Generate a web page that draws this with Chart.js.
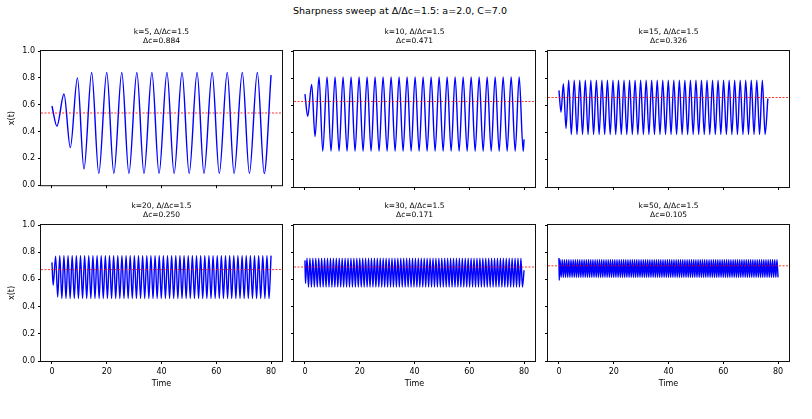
<!DOCTYPE html>
<html>
<head>
<meta charset="utf-8">
<title>Sharpness sweep</title>
<script src="https://cdn.jsdelivr.net/npm/chart.js"></script>
<style>
    body { margin: 0; background: #fff; font-family: "DejaVu Sans", sans-serif; }
    #page { position: relative; width: 812px; height: 419px; overflow: hidden; }
    #suptitle { position: absolute; left: 0; width: 800px; top: 5px; text-align: center; font-size: 9.5px; color: #000; }
    canvas { position: absolute; }
</style>
</head>
<body>
<div id="page">
    <div id="suptitle">Sharpness sweep at Δ/Δc=1.5: a=2.0, C=7.0</div>
</div>

<script>
    const xTicks = [0, 20, 40, 60, 80];
    const yTicks = [0, 0.2, 0.4, 0.6, 0.8, 1.0];
    const kValues = [5, 10, 15, 20, 30, 50];
    const dcValues = ['0.884', '0.471', '0.326', '0.250', '0.171', '0.105'];
    const meanLevels = [0.538, 0.629, 0.658, 0.672, 0.691, 0.700];

    // extrema of x(t) (time, value)
    const k5Time = [0, 1.8, 4.4, 6.7, 9.3, 11.7, 14.5, 17.1, 20.0, 22.6, 25.5, 28.1, 31.0, 33.6, 36.5, 39.1,
        42.0, 44.6, 47.5, 50.1, 53.0, 55.5, 58.5, 61.1, 64.0, 66.5, 69.5, 72.1, 75.0, 77.5, 80];
    const k5X = [0.59, 0.44, 0.68, 0.28, 0.80, 0.12,
        0.84, 0.086, 0.84, 0.086, 0.84, 0.086, 0.84, 0.086, 0.84, 0.086, 0.84, 0.086,
        0.84, 0.086, 0.84, 0.086, 0.84, 0.086, 0.84, 0.086, 0.84, 0.086, 0.84, 0.086, 0.82];

    const k10Time = [0, 1.0, 2.46, 3.68, 5.14, 6.5, 8.06, 9.52, 10.99, 12.45, 13.91, 15.37, 16.83, 18.29,
        19.76, 21.22, 22.68, 24.14, 25.60, 27.06, 28.52, 29.99, 31.45, 32.91, 34.37, 35.83, 37.29, 38.76,
        40.22, 41.68, 43.14, 44.60, 46.06, 47.52, 48.99, 50.45, 51.91, 53.37, 54.83, 56.29, 57.76, 59.22,
        60.68, 62.14, 63.60, 65.06, 66.52, 67.99, 69.45, 70.91, 72.37, 73.83, 75.29, 76.76, 78.22, 79.68, 80];
    const k10X = [0.683, 0.52, 0.754, 0.37,
        0.81, 0.263, 0.81, 0.263, 0.81, 0.263, 0.81, 0.263, 0.81, 0.263, 0.81, 0.263, 0.81, 0.263,
        0.81, 0.263, 0.81, 0.263, 0.81, 0.263, 0.81, 0.263, 0.81, 0.263, 0.81, 0.263, 0.81, 0.263,
        0.81, 0.263, 0.81, 0.263, 0.81, 0.263, 0.81, 0.263, 0.81, 0.263, 0.81, 0.263, 0.81, 0.263,
        0.81, 0.263, 0.81, 0.263, 0.81, 0.263, 0.81, 0.263, 0.81, 0.263, 0.35];

    const k15Time = [0, 0.75, 1.61, 2.58, 3.56, 4.5, 5.58, 6.59, 7.60, 8.61, 9.62, 10.63, 11.64, 12.65,
        13.66, 14.67, 15.68, 16.69, 17.70, 18.71, 19.72, 20.73, 21.74, 22.75, 23.76, 24.77, 25.78, 26.79,
        27.80, 28.81, 29.82, 30.83, 31.84, 32.85, 33.86, 34.87, 35.88, 36.89, 37.90, 38.91, 39.92, 40.93,
        41.94, 42.95, 43.96, 44.97, 45.98, 46.99, 48.00, 49.01, 50.02, 51.03, 52.04, 53.05, 54.06, 55.07,
        56.08, 57.09, 58.10, 59.11, 60.12, 61.13, 62.14, 63.15, 64.16, 65.17, 66.18, 67.19, 68.20, 69.21,
        70.22, 71.23, 72.24, 73.25, 74.26, 75.27, 76.28, 77.29, 78.30, 79.31, 80];
    const k15X = [0.71, 0.55, 0.76, 0.43,
        0.786, 0.386, 0.786, 0.386, 0.786, 0.386, 0.786, 0.386, 0.786, 0.386, 0.786, 0.386, 0.786, 0.386, 0.786, 0.386,
        0.786, 0.386, 0.786, 0.386, 0.786, 0.386, 0.786, 0.386, 0.786, 0.386, 0.786, 0.386, 0.786, 0.386, 0.786, 0.386,
        0.786, 0.386, 0.786, 0.386, 0.786, 0.386, 0.786, 0.386, 0.786, 0.386, 0.786, 0.386, 0.786, 0.386, 0.786, 0.386,
        0.786, 0.386, 0.786, 0.386, 0.786, 0.386, 0.786, 0.386, 0.786, 0.386, 0.786, 0.386, 0.786, 0.386, 0.786, 0.386,
        0.786, 0.386, 0.786, 0.386, 0.786, 0.386, 0.786, 0.386, 0.65];

    const k20Time = [0, 0.45, 1.34, 2.10, 2.85, 3.61, 4.37, 5.12, 5.88, 6.64, 7.39, 8.15, 8.91, 9.66,
        10.42, 11.17, 11.93, 12.69, 13.44, 14.20, 14.96, 15.71, 16.47, 17.23, 17.98, 18.74, 19.50, 20.25,
        21.01, 21.77, 22.52, 23.28, 24.04, 24.79, 25.55, 26.30, 27.06, 27.82, 28.57, 29.33, 30.09, 30.84,
        31.60, 32.36, 33.11, 33.87, 34.63, 35.38, 36.14, 36.90, 37.65, 38.41, 39.17, 39.92, 40.68, 41.43,
        42.19, 42.95, 43.70, 44.46, 45.22, 45.97, 46.73, 47.49, 48.24, 49.00, 49.76, 50.51, 51.27, 52.03,
        52.78, 53.54, 54.30, 55.05, 55.81, 56.56, 57.32, 58.08, 58.83, 59.59, 60.35, 61.10, 61.86, 62.62,
        63.37, 64.13, 64.89, 65.64, 66.40, 67.16, 67.91, 68.67, 69.43, 70.18, 70.94, 71.69, 72.45, 73.21,
        73.96, 74.72, 75.48, 76.23, 76.99, 77.75, 78.50, 79.26, 80.0];
    const k20X = [0.725, 0.557, 0.77, 0.47,
        0.775, 0.459, 0.775, 0.459, 0.775, 0.459, 0.775, 0.459, 0.775, 0.459,
        0.775, 0.459, 0.775, 0.459, 0.775, 0.459, 0.775, 0.459, 0.775, 0.459,
        0.775, 0.459, 0.775, 0.459, 0.775, 0.459, 0.775, 0.459, 0.775, 0.459,
        0.775, 0.459, 0.775, 0.459, 0.775, 0.459, 0.775, 0.459, 0.775, 0.459,
        0.775, 0.459, 0.775, 0.459, 0.775, 0.459, 0.775, 0.459, 0.775, 0.459,
        0.775, 0.459, 0.775, 0.459, 0.775, 0.459, 0.775, 0.459, 0.775, 0.459,
        0.775, 0.459, 0.775, 0.459, 0.775, 0.459, 0.775, 0.459, 0.775, 0.459,
        0.775, 0.459, 0.775, 0.459, 0.775, 0.459, 0.775, 0.459, 0.775, 0.459,
        0.775, 0.459, 0.775, 0.459, 0.775, 0.459, 0.775, 0.459, 0.775, 0.459,
        0.775, 0.459, 0.775, 0.459, 0.775, 0.459, 0.775, 0.459, 0.775, 0.459,
        0.775, 0.459, 0.775];

    const k30Time = [0, 0.2, 0.75, 1.29, 1.82, 2.36, 2.89, 3.43, 3.96, 4.50, 5.03, 5.57, 6.10, 6.64,
        7.17, 7.71, 8.24, 8.78, 9.31, 9.85, 10.38, 10.92, 11.45, 11.99, 12.52, 13.06, 13.59, 14.13,
        14.66, 15.20, 15.73, 16.27, 16.80, 17.34, 17.87, 18.41, 18.94, 19.48, 20.01, 20.55, 21.08, 21.62,
        22.15, 22.69, 23.22, 23.76, 24.29, 24.83, 25.36, 25.90, 26.43, 26.97, 27.50, 28.04, 28.57, 29.11,
        29.64, 30.18, 30.71, 31.25, 31.78, 32.32, 32.85, 33.39, 33.92, 34.46, 34.99, 35.53, 36.06, 36.60,
        37.13, 37.67, 38.20, 38.74, 39.27, 39.81, 40.34, 40.88, 41.41, 41.95, 42.48, 43.02, 43.55, 44.09,
        44.62, 45.16, 45.69, 46.23, 46.76, 47.30, 47.83, 48.37, 48.90, 49.44, 49.97, 50.51, 51.04, 51.58,
        52.11, 52.65, 53.18, 53.72, 54.25, 54.79, 55.32, 55.86, 56.39, 56.93, 57.46, 58.00, 58.53, 59.07,
        59.60, 60.14, 60.67, 61.21, 61.74, 62.28, 62.81, 63.35, 63.88, 64.42, 64.95, 65.49, 66.02, 66.56,
        67.09, 67.63, 68.16, 68.70, 69.23, 69.77, 70.30, 70.84, 71.37, 71.91, 72.44, 72.98, 73.51, 74.05,
        74.58, 75.12, 75.65, 76.19, 76.72, 77.26, 77.79, 78.33, 78.86, 79.40, 80];
    const k30X = [0.74, 0.569,
        0.755, 0.544, 0.755, 0.544, 0.755, 0.544, 0.755, 0.544, 0.755, 0.544, 0.755, 0.544, 0.755, 0.544,
        0.755, 0.544, 0.755, 0.544, 0.755, 0.544, 0.755, 0.544, 0.755, 0.544, 0.755, 0.544, 0.755, 0.544,
        0.755, 0.544, 0.755, 0.544, 0.755, 0.544, 0.755, 0.544, 0.755, 0.544, 0.755, 0.544, 0.755, 0.544,
        0.755, 0.544, 0.755, 0.544, 0.755, 0.544, 0.755, 0.544, 0.755, 0.544, 0.755, 0.544, 0.755, 0.544,
        0.755, 0.544, 0.755, 0.544, 0.755, 0.544, 0.755, 0.544, 0.755, 0.544, 0.755, 0.544, 0.755, 0.544,
        0.755, 0.544, 0.755, 0.544, 0.755, 0.544, 0.755, 0.544, 0.755, 0.544, 0.755, 0.544, 0.755, 0.544,
        0.755, 0.544, 0.755, 0.544, 0.755, 0.544, 0.755, 0.544, 0.755, 0.544, 0.755, 0.544, 0.755, 0.544,
        0.755, 0.544, 0.755, 0.544, 0.755, 0.544, 0.755, 0.544, 0.755, 0.544, 0.755, 0.544, 0.755, 0.544,
        0.755, 0.544, 0.755, 0.544, 0.755, 0.544, 0.755, 0.544, 0.755, 0.544, 0.755, 0.544, 0.755, 0.544,
        0.755, 0.544, 0.755, 0.544, 0.755, 0.544, 0.755, 0.544, 0.755, 0.544, 0.755, 0.544, 0.755, 0.544,
        0.755, 0.544, 0.755, 0.544, 0.755, 0.544, 0.755, 0.544, 0.667];

    const k50Time = [0, 0.1,
        0.4, 0.8, 1.2, 1.6, 2.0, 2.4, 2.8, 3.2, 3.6, 4.0, 4.4, 4.8, 5.2, 5.6, 6.0, 6.4, 6.8, 7.2, 7.6, 8.0,
        8.4, 8.8, 9.2, 9.6, 10.0, 10.4, 10.8, 11.2, 11.6, 12.0, 12.4, 12.8, 13.2, 13.6, 14.0, 14.4, 14.8, 15.2, 15.6, 16.0,
        16.4, 16.8, 17.2, 17.6, 18.0, 18.4, 18.8, 19.2, 19.6, 20.0, 20.4, 20.8, 21.2, 21.6, 22.0, 22.4, 22.8, 23.2, 23.6, 24.0,
        24.4, 24.8, 25.2, 25.6, 26.0, 26.4, 26.8, 27.2, 27.6, 28.0, 28.4, 28.8, 29.2, 29.6, 30.0, 30.4, 30.8, 31.2, 31.6, 32.0,
        32.4, 32.8, 33.2, 33.6, 34.0, 34.4, 34.8, 35.2, 35.6, 36.0, 36.4, 36.8, 37.2, 37.6, 38.0, 38.4, 38.8, 39.2, 39.6, 40.0,
        40.4, 40.8, 41.2, 41.6, 42.0, 42.4, 42.8, 43.2, 43.6, 44.0, 44.4, 44.8, 45.2, 45.6, 46.0, 46.4, 46.8, 47.2, 47.6, 48.0,
        48.4, 48.8, 49.2, 49.6, 50.0, 50.4, 50.8, 51.2, 51.6, 52.0, 52.4, 52.8, 53.2, 53.6, 54.0, 54.4, 54.8, 55.2, 55.6, 56.0,
        56.4, 56.8, 57.2, 57.6, 58.0, 58.4, 58.8, 59.2, 59.6, 60.0, 60.4, 60.8, 61.2, 61.6, 62.0, 62.4, 62.8, 63.2, 63.6, 64.0,
        64.4, 64.8, 65.2, 65.6, 66.0, 66.4, 66.8, 67.2, 67.6, 68.0, 68.4, 68.8, 69.2, 69.6, 70.0, 70.4, 70.8, 71.2, 71.6, 72.0,
        72.4, 72.8, 73.2, 73.6, 74.0, 74.4, 74.8, 75.2, 75.6, 76.0, 76.4, 76.8, 77.2, 77.6, 78.0, 78.4, 78.8, 79.2, 79.6, 80.0];
    const k50X = [0.757, 0.593,
        0.745, 0.615, 0.745, 0.615, 0.745, 0.615, 0.745, 0.615, 0.745, 0.615, 0.745, 0.615, 0.745, 0.615, 0.745, 0.615, 0.745, 0.615, 0.745, 0.615,
        0.745, 0.615, 0.745, 0.615, 0.745, 0.615, 0.745, 0.615, 0.745, 0.615, 0.745, 0.615, 0.745, 0.615, 0.745, 0.615, 0.745, 0.615, 0.745, 0.615,
        0.745, 0.615, 0.745, 0.615, 0.745, 0.615, 0.745, 0.615, 0.745, 0.615, 0.745, 0.615, 0.745, 0.615, 0.745, 0.615, 0.745, 0.615, 0.745, 0.615,
        0.745, 0.615, 0.745, 0.615, 0.745, 0.615, 0.745, 0.615, 0.745, 0.615, 0.745, 0.615, 0.745, 0.615, 0.745, 0.615, 0.745, 0.615, 0.745, 0.615,
        0.745, 0.615, 0.745, 0.615, 0.745, 0.615, 0.745, 0.615, 0.745, 0.615, 0.745, 0.615, 0.745, 0.615, 0.745, 0.615, 0.745, 0.615, 0.745, 0.615,
        0.745, 0.615, 0.745, 0.615, 0.745, 0.615, 0.745, 0.615, 0.745, 0.615, 0.745, 0.615, 0.745, 0.615, 0.745, 0.615, 0.745, 0.615, 0.745, 0.615,
        0.745, 0.615, 0.745, 0.615, 0.745, 0.615, 0.745, 0.615, 0.745, 0.615, 0.745, 0.615, 0.745, 0.615, 0.745, 0.615, 0.745, 0.615, 0.745, 0.615,
        0.745, 0.615, 0.745, 0.615, 0.745, 0.615, 0.745, 0.615, 0.745, 0.615, 0.745, 0.615, 0.745, 0.615, 0.745, 0.615, 0.745, 0.615, 0.745, 0.615,
        0.745, 0.615, 0.745, 0.615, 0.745, 0.615, 0.745, 0.615, 0.745, 0.615, 0.745, 0.615, 0.745, 0.615, 0.745, 0.615, 0.745, 0.615, 0.745, 0.615,
        0.745, 0.615, 0.745, 0.615, 0.745, 0.615, 0.745, 0.615, 0.745, 0.615, 0.745, 0.615, 0.745, 0.615, 0.745, 0.615, 0.745, 0.615, 0.745, 0.615];

    const series = [[k5Time, k5X], [k10Time, k10X], [k15Time, k15X], [k20Time, k20X], [k30Time, k30X], [k50Time, k50X]];

    // layout in page pixels
    const plotLeft = [41, 294, 548];
    const plotTop = [51, 225];
    const plotW = 241, plotH = 136, yAxisW = 41, titleH = 23, padRight = 9;
    const FONT = 'DejaVu Sans';

    const frame = {
        id: 'frame',
        afterDraw(chart) {
            const a = chart.chartArea, c = chart.ctx;
            c.save();
            c.strokeStyle = '#111';
            c.lineWidth = 1;
            c.strokeRect(a.left - 0.5, a.top - 0.5, a.right - a.left + 1, a.bottom - a.top + 1);
            c.restore();
        }
    };

    const page = document.getElementById('page');

    series.forEach(([times, values], i) => {
        const row = Math.floor(i / 3), col = i % 3;
        const xAxisH = row === 1 ? 28 : 6;
        const cv = document.createElement('canvas');
        cv.width = yAxisW + plotW + padRight;
        cv.height = titleH + plotH + xAxisH;
        cv.style.left = (plotLeft[col] - yAxisW) + 'px';
        cv.style.top = (plotTop[row] - titleH) + 'px';
        page.appendChild(cv);

        const pts = times.map((t, j) => ({x: t, y: values[j]}));
        const m = meanLevels[i];

        new Chart(cv.getContext('2d'), {
            type: 'line',
            data: {
                datasets: [
                    {
                        data: [{x: -4, y: m}, {x: 84, y: m}],
                        borderColor: 'rgba(255, 0, 0, 0.8)',
                        borderWidth: 1,
                        borderDash: [2, 1.5],
                        pointRadius: 0
                    },
                    {
                        data: pts,
                        borderColor: '#0000ff',
                        borderWidth: 1.4,
                        pointRadius: 0,
                        cubicInterpolationMode: 'monotone',
                        fill: false
                    }
                ]
            },
            options: {
                responsive: false,
                animation: false,
                devicePixelRatio: 1,
                events: [],
                layout: { padding: { left: 0, right: padRight, top: 0, bottom: 0 } },
                plugins: {
                    legend: { display: false },
                    tooltip: { enabled: false },
                    title: {
                        display: true,
                        fullSize: false,
                        text: ['k=' + kValues[i] + ', Δ/Δc=1.5', 'Δc=' + dcValues[i]],
                        color: '#000',
                        font: { family: FONT, size: 7.5, weight: 'normal', lineHeight: 1.2 },
                        padding: { top: 0, bottom: 5 }
                    }
                },
                scales: {
                    x: {
                        type: 'linear',
                        min: -4,
                        max: 84,
                        afterBuildTicks: s => { s.ticks = xTicks.map(v => ({value: v})); },
                        afterFit: s => { s.height = xAxisH; },
                        border: { display: false },
                        grid: { display: true, drawOnChartArea: false, drawTicks: true, tickLength: 3, color: '#000', lineWidth: 1 },
                        ticks: {
                            display: row === 1,
                            color: '#000',
                            font: { family: FONT, size: 8 },
                            padding: 3,
                            maxRotation: 0,
                            autoSkip: false,
                            callback: v => String(v)
                        },
                        title: {
                            display: row === 1,
                            text: 'Time',
                            color: '#000',
                            font: { family: FONT, size: 8, lineHeight: 1.2 },
                            padding: { top: 0, bottom: 0 }
                        }
                    },
                    y: {
                        min: 0,
                        max: 1,
                        afterBuildTicks: s => { s.ticks = yTicks.map(v => ({value: v})); },
                        afterFit: s => { s.width = yAxisW; },
                        border: { display: false },
                        grid: { display: true, drawOnChartArea: false, drawTicks: true, tickLength: 3, color: '#000', lineWidth: 1 },
                        ticks: {
                            display: col === 0,
                            color: '#000',
                            font: { family: FONT, size: 8 },
                            padding: 3,
                            callback: v => v.toFixed(1)
                        },
                        title: {
                            display: col === 0,
                            text: 'x(t)',
                            color: '#000',
                            font: { family: FONT, size: 8, lineHeight: 1.2 },
                            padding: { top: 7, bottom: 0 }
                        }
                    }
                }
            },
            plugins: [frame]
        });
    });
</script>
</body>
</html>
